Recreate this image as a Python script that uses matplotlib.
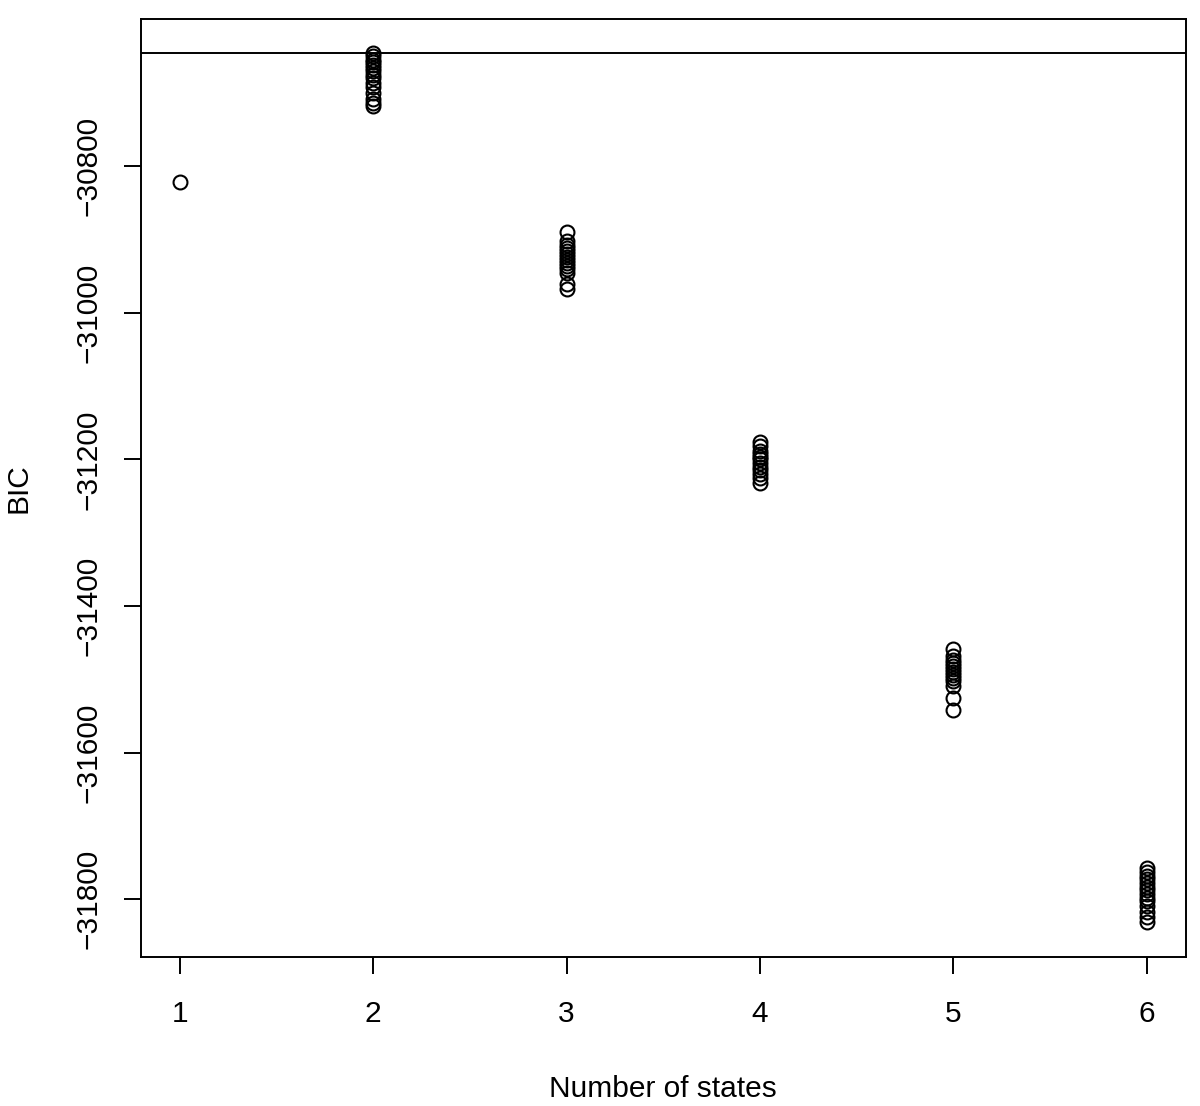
import matplotlib.pyplot as plt

plt.rcParams['font.family'] = ['Liberation Sans', 'DejaVu Sans']

# BIC values, one list per number of states
bic_1 = [-30822]
bic_2 = [-30646, -30650, -30655, -30658, -30662, -30666, -30670, -30675, -30680,
         -30686, -30692, -30700, -30708, -30714, -30718]
bic_3 = [-30889, -30902, -30908, -30912, -30916, -30920, -30924, -30928, -30932,
         -30936, -30940, -30945, -30960, -30968]
bic_4 = [-31176, -31182, -31188, -31192, -31196, -31200, -31205, -31210, -31215,
         -31220, -31226, -31232]
bic_5 = [-31458, -31468, -31473, -31478, -31482, -31486, -31490, -31494, -31498,
         -31503, -31509, -31525, -31542]
bic_6 = [-31758, -31763, -31768, -31773, -31778, -31783, -31788, -31793, -31798,
         -31803, -31810, -31817, -31824, -31831]
groups = [bic_1, bic_2, bic_3, bic_4, bic_5, bic_6]
best_bic = max(max(g) for g in groups)

fig = plt.figure(figsize=(12, 11.06), dpi=100)
ax = fig.add_axes([0.1175, 0.1347, 0.8705, 0.8481])

for k, vals in enumerate(groups, start=1):
    ax.plot([k] * len(vals), vals, linestyle='none', marker='o', markersize=10,
            markerfacecolor='none', markeredgecolor='black', markeredgewidth=1.5)

ax.axhline(best_bic, color='black', linewidth=1.4)

ax.set_xlim(0.8, 6.2)
ax.set_ylim(-31879, -30599)
ax.set_xticks([1, 2, 3, 4, 5, 6])
ax.set_yticks([-30800, -31000, -31200, -31400, -31600, -31800])
ax.set_yticklabels(['\u221230800', '\u221231000', '\u221231200', '\u221231400',
                    '\u221231600', '\u221231800'], rotation=90, va='center')
ax.tick_params(direction='out', length=12, width=1.4, labelsize=21.5)
ax.tick_params(axis='x', pad=19)
ax.tick_params(axis='y', pad=16)
for s in ax.spines.values():
    s.set_linewidth(1.4)

ax.set_xlabel('Number of states', fontsize=21.5, labelpad=34)
ax.set_ylabel('BIC', fontsize=21.5, labelpad=30)

fig.savefig('out.png', dpi=100)
